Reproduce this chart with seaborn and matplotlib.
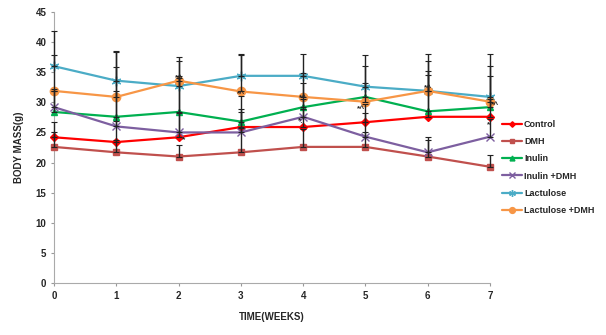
import numpy as np
import seaborn as sns
import matplotlib.pyplot as plt

# weeks on the x axis
weeks = [0, 1, 2, 3, 4, 5, 6, 7]

# mean body mass per group (g)
control = [24.2, 23.4, 24.2, 25.9, 25.9, 26.7, 27.6, 27.6]
dmh = [22.6, 21.7, 21.0, 21.7, 22.6, 22.6, 21.0, 19.3]
inulin = [28.4, 27.6, 28.4, 26.8, 29.2, 30.9, 28.5, 29.2]
inulin_dmh = [29.2, 26.0, 25.0, 25.0, 27.6, 24.3, 21.7, 24.3]
lactulose = [36.0, 33.6, 32.7, 34.4, 34.4, 32.6, 31.9, 30.9]
lactulose_dmh = [31.9, 30.9, 33.6, 31.8, 30.9, 30.1, 31.9, 30.1]

# upper error bars (plus direction only)
err_control = [2.6, 3.5, 4.0, 3.0, 3.0, 3.0, 7.0, 3.0]
err_dmh = [2.5, 2.0, 1.9, 4.0, 3.0, 2.5, 3.3, 2.0]
err_inulin = [3.5, 4.2, 5.9, 1.6, 4.0, 2.3, 6.7, 5.2]
err_inulin_dmh = [3.0, 12.3, 9.0, 6.0, 3.0, 4.0, 2.0, 3.0]
err_lactulose = [5.9, 4.9, 4.8, 3.6, 3.6, 5.3, 6.1, 7.1]
err_lactulose_dmh = [6.0, 5.0, 3.3, 6.0, 3.9, 5.9, 4.9, 5.9]

groups = ['Control', 'DMH', 'Inulin', 'Inulin +DMH', 'Lactulose', 'Lactulose +DMH']
means = [control, dmh, inulin, inulin_dmh, lactulose, lactulose_dmh]
errs = [err_control, err_dmh, err_inulin, err_inulin_dmh, err_lactulose, err_lactulose_dmh]

# significance marks
note_x = [2.0, 2.08, 3.0, 4.0, 3.97, 4.93, 6.0, 7.08, 6.97]
note_y = [34.0, 23.8, 31.3, 30.6, 26.9, 28.8, 32.3, 29.4, 26.2]
note_txt = ['*^', '*', '*^', '*^', '*.', '*^', '*^', '*^', '*']

colors = ['#FF0000', '#C0504D', '#00B050', '#7D5FA0', '#4BACC6', '#F79646']
markers = ['D', 's', '^', 'x', (6, 2, 0), 'o']
msizes = [4, 5, 5, 6, 7, 6]

sns.set_style('white')
plt.rcParams['font.family'] = ['Liberation Sans', 'DejaVu Sans']
plt.rcParams['font.weight'] = 'bold'

fig = plt.figure(figsize=(6.06, 3.35), dpi=100)
ax = fig.add_axes([54 / 606, 52 / 335, 436 / 606, 271 / 335])

for m, e in zip(means, errs):
    ax.errorbar(weeks, m, yerr=[np.zeros(len(e)), e], fmt='none', clip_on=False,
                ecolor='#222222', elinewidth=1.0, capsize=2.2, capthick=0.8, zorder=4)

for g, m, c, mk, ms in zip(groups, means, colors, markers, msizes):
    sns.lineplot(x=weeks, y=m, color=c, marker=mk, markersize=ms, markeredgecolor=c,
                 markeredgewidth=1.0, linewidth=1.6, ax=ax, label=g, zorder=3, clip_on=False)

for x, y, t in zip(note_x, note_y, note_txt):
    ax.text(x, y, t, fontsize=6, fontweight='bold', ha='center', va='center', zorder=5)

ax.set_xlim(0, 7)
ax.set_ylim(0, 45)
ax.set_xticks(weeks)
ax.set_yticks(range(0, 50, 5))
ax.tick_params(labelsize=7, length=2, color='#999999', direction='out', bottom=True, left=True)
for lab in ax.get_xticklabels() + ax.get_yticklabels():
    lab.set_fontweight('bold')
ax.set_xlabel('TIME(WEEKS)', fontsize=7, fontweight='bold', labelpad=8)
ax.set_ylabel('BODY MASS(g)', fontsize=7, fontweight='bold', labelpad=8)
sns.despine(ax=ax)
ax.spines['left'].set_color('#AAAAAA')
ax.spines['bottom'].set_color('#AAAAAA')

ax.legend(loc='center left', bbox_to_anchor=(1.02, 0.426), frameon=False, markerscale=0.7,
          prop={'size': 6.5, 'weight': 'bold'}, handlelength=2.2, handletextpad=0.2,
          labelspacing=0.9, borderaxespad=0)

fig.savefig('out.png', dpi=100)
